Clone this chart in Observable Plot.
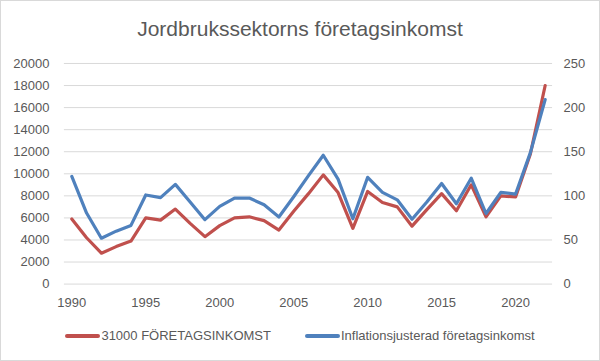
<!DOCTYPE html>
<html>
<head>
<meta charset="utf-8">
<script src="https://cdn.jsdelivr.net/npm/d3@7"></script>
<script src="https://cdn.jsdelivr.net/npm/@observablehq/plot@0.6"></script>
<style>
  html, body { margin: 0; padding: 0; background: #fff; }
  #wrap { position: relative; width: 600px; height: 361px; box-sizing: border-box; border: 1px solid #d9d9d9; font-family: "Liberation Sans", Arial, sans-serif; color: #595959; overflow: hidden; }
  #title { position: absolute; left: 0; top: 17px; width: 598px; text-align: center; font-size: 21px; line-height: 22px; color: #595959; }
  #chart { position: absolute; left: -1px; top: 44px; }
  #legend { position: absolute; left: 0; top: 327px; width: 598px; display: flex; justify-content: center; gap: 34px; font-size: 13px; line-height: 16px; }
  .item { display: flex; align-items: center; }
  .sw { width: 35px; height: 4px; margin-right: 1px; border-radius: 2px; }
</style>
</head>
<body>
<div id="wrap">
  <div id="title">Jordbrukssektorns företagsinkomst</div>
  <div id="chart"></div>
  <div id="legend"></div>
</div>
<script>
const years = d3.range(1990, 2023);
const foretagsinkomst = [5900, 4200, 2800, 3400, 3900, 6000, 5800, 6800, 5500, 4300,
  5300, 6000, 6100, 5750, 4900, 6600, 8200, 9900, 8300, 5050,
  8400, 7400, 7000, 5250, 6750, 8200, 6650, 9000, 6100, 8000,
  7900, 11800, 18000];
const inflationsjusterad = [122, 80.5, 52, 60, 66.5, 101, 98, 113, 93, 73,
  88, 97.5, 97.5, 90, 76, 99, 123, 146, 119, 74,
  121, 104, 95.5, 73.5, 93, 114, 91, 120, 80, 104,
  102, 149, 209];
const leftTicks = d3.range(0, 20001, 2000);
const rightTicks = d3.range(0, 251, 50);
const xTicks = [1990, 1995, 2000, 2005, 2010, 2015, 2020];
const seriesNames = ["31000 FÖRETAGSINKOMST", "Inflationsjusterad företagsinkomst"];
const colors = ["#C0504D", "#4F81BD"];
const ratio = 20000 / 250;

const red = years.map((y, i) => ({year: y, v: foretagsinkomst[i]}));
const blue = years.map((y, i) => ({year: y, v: inflationsjusterad[i]}));

const plot = Plot.plot({
  width: 600,
  height: 268,
  marginTop: 18,
  marginBottom: 29,
  marginLeft: 64,
  marginRight: 47,
  style: {fontFamily: "'Liberation Sans', Arial, sans-serif", fontSize: "13px", color: "#595959", background: "transparent"},
  x: {domain: [1989.5, 2022.5]},
  y: {domain: [0, 20000]},
  marks: [
    Plot.gridY(leftTicks, {stroke: "#d9d9d9", strokeOpacity: 1, strokeWidth: 1}),
    Plot.axisY(leftTicks, {anchor: "left", tickSize: 0, tickPadding: 15, label: null, fill: "#595959", tickFormat: d => String(d)}),
    Plot.axisY(rightTicks.map(v => v * ratio), {anchor: "right", tickSize: 0, tickPadding: 11, label: null, fill: "#595959", tickFormat: d => String(d / ratio)}),
    Plot.axisX(xTicks, {tickSize: 0, tickPadding: 14, label: null, fill: "#595959", tickFormat: d => String(d)}),
    Plot.line(red, {x: "year", y: "v", stroke: colors[0], strokeWidth: 3.2, strokeLinejoin: "round"}),
    Plot.line(blue, {x: "year", y: d => d.v * ratio, stroke: colors[1], strokeWidth: 3.2, strokeLinejoin: "round"})
  ]
});
document.getElementById("chart").appendChild(plot);

const legend = document.getElementById("legend");
seriesNames.forEach((n, i) => {
  const it = document.createElement("div");
  it.className = "item";
  const sw = document.createElement("div");
  sw.className = "sw";
  sw.style.background = colors[i];
  const t = document.createElement("span");
  t.textContent = n;
  it.appendChild(sw); it.appendChild(t);
  legend.appendChild(it);
});
</script>
</body>
</html>
